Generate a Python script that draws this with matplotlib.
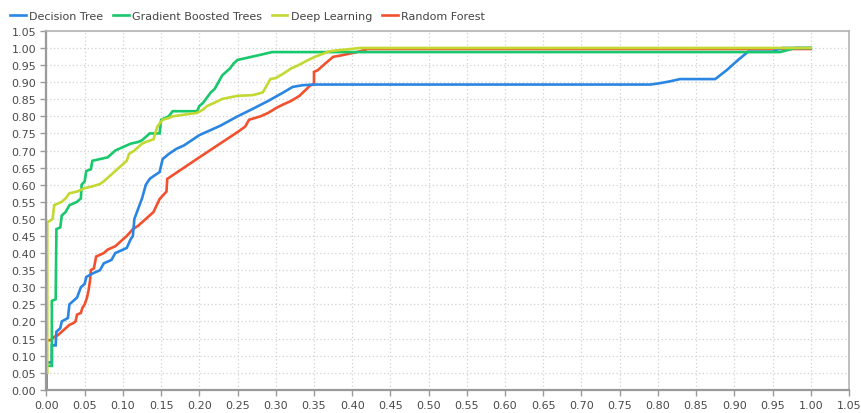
import matplotlib.pyplot as plt
import numpy as np

# ROC curves (false positive rate, true positive rate) per model
dt_fpr = [0.0, 0.0, 0.005, 0.007, 0.007, 0.012, 0.013, 0.018, 0.02, 0.028, 0.03, 0.035, 0.04,
          0.045, 0.05, 0.052, 0.06, 0.07, 0.075, 0.085, 0.09, 0.1, 0.105, 0.11, 0.113, 0.115,
          0.12, 0.125, 0.13, 0.135, 0.14, 0.148, 0.152, 0.16, 0.17, 0.18, 0.2, 0.227, 0.25,
          0.27, 0.29, 0.31, 0.322, 0.335, 0.35, 0.79, 0.80, 0.815, 0.829, 0.875, 0.89, 0.905,
          0.918, 0.951, 0.955, 0.963, 1.0]
dt_tpr = [0.0, 0.08, 0.08, 0.08, 0.13, 0.13, 0.17, 0.18, 0.20, 0.21, 0.25, 0.26, 0.27,
          0.30, 0.31, 0.33, 0.34, 0.35, 0.37, 0.38, 0.40, 0.41, 0.415, 0.44, 0.45, 0.50,
          0.53, 0.56, 0.60, 0.617, 0.625, 0.637, 0.675, 0.69, 0.705, 0.715, 0.745, 0.772, 0.800,
          0.822, 0.845, 0.870, 0.886, 0.891, 0.893, 0.893, 0.896, 0.902, 0.909, 0.909, 0.935, 0.965,
          0.989, 0.989, 0.995, 1.0, 1.0]

gbt_fpr = [0.002, 0.007, 0.007, 0.012, 0.013, 0.018, 0.02, 0.025, 0.03, 0.035, 0.04, 0.045,
           0.046, 0.05, 0.052, 0.058, 0.06, 0.07, 0.08, 0.085, 0.09, 0.1, 0.11, 0.12, 0.125,
           0.13, 0.135, 0.148, 0.15, 0.16, 0.165, 0.197, 0.2, 0.205, 0.21, 0.215, 0.22, 0.225,
           0.23, 0.235, 0.24, 0.245, 0.25, 0.26, 0.27, 0.28, 0.295, 0.96, 0.98, 1.0]
gbt_tpr = [0.07, 0.07, 0.26, 0.265, 0.47, 0.475, 0.51, 0.52, 0.54, 0.545, 0.55, 0.56,
           0.60, 0.61, 0.64, 0.645, 0.67, 0.675, 0.68, 0.69, 0.70, 0.71, 0.72, 0.725, 0.73,
           0.74, 0.75, 0.75, 0.79, 0.80, 0.815, 0.815, 0.83, 0.84, 0.855, 0.87, 0.88, 0.90,
           0.92, 0.93, 0.94, 0.955, 0.965, 0.97, 0.975, 0.98, 0.988, 0.988, 1.0, 1.0]

dl_fpr = [0.001, 0.001, 0.005, 0.008, 0.01, 0.015, 0.02, 0.025, 0.03, 0.04, 0.045, 0.05, 0.06,
          0.07, 0.075, 0.08, 0.085, 0.09, 0.095, 0.1, 0.105, 0.108, 0.115, 0.12, 0.125, 0.13,
          0.14, 0.145, 0.152, 0.16, 0.165, 0.18, 0.197, 0.205, 0.21, 0.22, 0.23, 0.25, 0.27,
          0.283, 0.293, 0.3, 0.31, 0.32, 0.33, 0.34, 0.351, 0.37, 0.38, 0.39, 0.41, 1.0]
dl_tpr = [0.05, 0.49, 0.495, 0.50, 0.54, 0.545, 0.55, 0.56, 0.575, 0.58, 0.585, 0.59, 0.595,
          0.602, 0.61, 0.62, 0.63, 0.64, 0.65, 0.66, 0.67, 0.69, 0.70, 0.71, 0.72, 0.725,
          0.733, 0.77, 0.79, 0.795, 0.80, 0.805, 0.81, 0.82, 0.83, 0.84, 0.851, 0.86, 0.862,
          0.87, 0.909, 0.912, 0.925, 0.94, 0.95, 0.962, 0.974, 0.99, 0.993, 0.995, 1.0, 1.0]

rf_fpr = [0.0, 0.0, 0.005, 0.008, 0.01, 0.015, 0.02, 0.025, 0.03, 0.035, 0.038, 0.04, 0.045,
          0.047, 0.05, 0.053, 0.055, 0.057, 0.058, 0.062, 0.065, 0.07, 0.075, 0.08, 0.085,
          0.09, 0.095, 0.1, 0.105, 0.113, 0.12, 0.13, 0.14, 0.148, 0.157, 0.158, 0.17, 0.18,
          0.2, 0.227, 0.25, 0.26, 0.265, 0.28, 0.29, 0.301, 0.31, 0.32, 0.331, 0.338, 0.345,
          0.35, 0.35, 0.355, 0.36, 0.365, 0.375, 0.385, 0.40, 0.41, 0.42, 1.0]
rf_tpr = [0.07, 0.145, 0.145, 0.15, 0.155, 0.16, 0.17, 0.18, 0.19, 0.195, 0.20, 0.22, 0.225,
          0.24, 0.25, 0.27, 0.29, 0.32, 0.35, 0.355, 0.39, 0.395, 0.40, 0.41, 0.415,
          0.42, 0.43, 0.44, 0.45, 0.47, 0.48, 0.50, 0.52, 0.558, 0.58, 0.617, 0.635, 0.65,
          0.68, 0.72, 0.754, 0.77, 0.79, 0.80, 0.81, 0.825, 0.835, 0.845, 0.86, 0.875, 0.89,
          0.895, 0.93, 0.935, 0.945, 0.955, 0.974, 0.978, 0.985, 0.99, 0.997, 0.997]

names = ["Decision Tree", "Gradient Boosted Trees", "Deep Learning", "Random Forest"]
colors = ["#2a86e2", "#18c86c", "#c4d832", "#f2512f"]

fig = plt.figure(figsize=(8.61, 4.14), dpi=100)
ax = fig.add_axes([0.054, 0.056, 0.932, 0.867])

curves = [(dt_fpr, dt_tpr), (gbt_fpr, gbt_tpr), (dl_fpr, dl_tpr), (rf_fpr, rf_tpr)]
order = [3, 0, 1, 2]  # red underneath so yellow covers it on the 1.0 plateau
for i in order:
    x, y = curves[i]
    ax.plot(x, y, color=colors[i], lw=1.9, label=names[i], solid_joinstyle="miter")

ax.set_xlim(0, 1.05)
ax.set_ylim(0, 1.05)
ticks = np.round(np.arange(0, 1.0501, 0.05), 2)
ax.set_xticks(ticks)
ax.set_yticks(ticks)
ax.set_xticklabels([f"{t:.2f}" for t in ticks])
ax.set_yticklabels([f"{t:.2f}" for t in ticks])
ax.tick_params(labelsize=8, colors="#9a9a9a", labelcolor="#4a4a4a", length=4, width=1)
ax.grid(True, color="#d2d2d2", linestyle=(0, (1, 2)), linewidth=0.9)
ax.set_axisbelow(True)
for side in ["top", "right"]:
    ax.spines[side].set_color("#b4b4b4")
    ax.spines[side].set_linewidth(1.2)
for side in ["left", "bottom"]:
    ax.spines[side].set_color("#9a9a9a")
    ax.spines[side].set_linewidth(1.6)

handles, labels = ax.get_legend_handles_labels()
hmap = dict(zip(labels, handles))
leg = fig.legend([hmap[n] for n in names], names, loc="upper left",
                 bbox_to_anchor=(0.0, 0.995), ncol=4, frameon=False, fontsize=8,
                 handlelength=1.4, handletextpad=0.3, columnspacing=0.9)
for t in leg.get_texts():
    t.set_color("#444444")

fig.savefig("out.png", dpi=100)
